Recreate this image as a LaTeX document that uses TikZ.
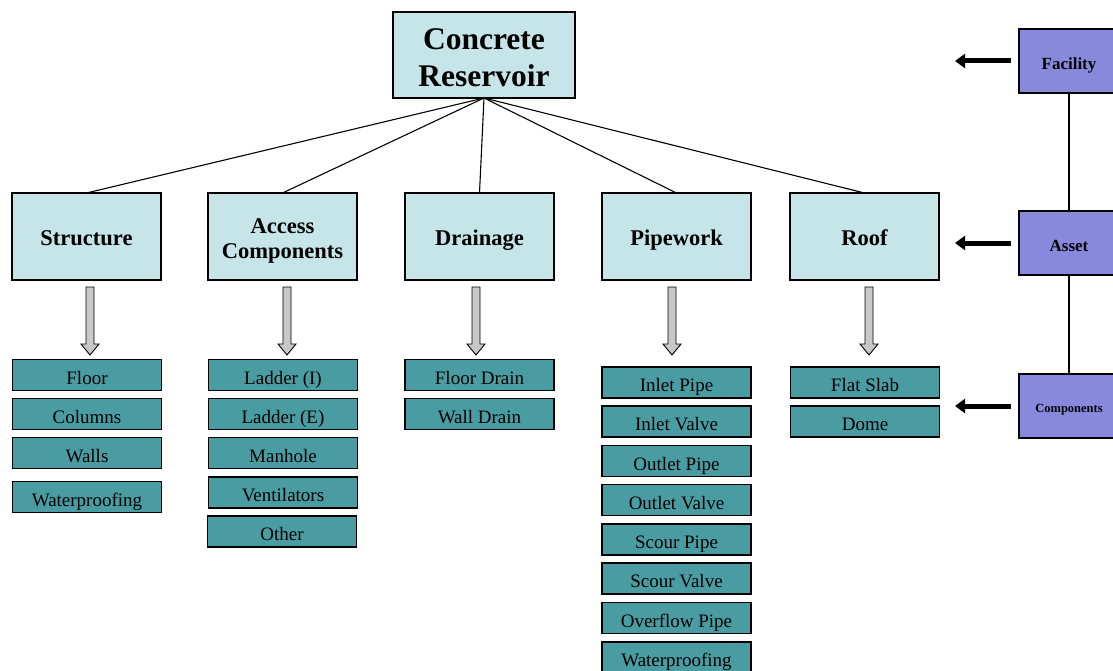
\documentclass[tikz,border=0pt]{standalone}
\usepackage{fontspec}
\setmainfont{Liberation Serif}
\usetikzlibrary{arrows.meta}
\definecolor{lightbox}{RGB}{198,229,232}
\definecolor{tealbox}{RGB}{74,156,163}
\definecolor{purplebox}{RGB}{136,136,221}
\definecolor{arrowgray}{RGB}{200,200,200}
\begin{document}
\begin{tikzpicture}[x=1pt,y=-1pt,
  base/.style={draw=black, line width=1.2pt, inner sep=0pt, outer sep=0pt, align=center},
  topbox/.style={base, fill=lightbox, minimum width=182pt, minimum height=86pt},
  toptext/.style={font=\fontsize{31.5}{37}\selectfont\bfseries, align=center, inner sep=0pt},
  catbox/.style={base, fill=lightbox, minimum width=149pt, minimum height=87pt,
    font=\fontsize{22.5}{25}\selectfont\bfseries},
  cattext/.style={text height=18pt, text depth=0pt},
  catlabel/.style={font=\fontsize{22.5}{25}\selectfont\bfseries, align=center, inner sep=0pt},
  itembox/.style={base, fill=tealbox, minimum width=149pt, minimum height=31pt,
    font=\fontsize{19}{20}\selectfont, text height=18pt, text depth=0pt},
  levelbox/.style={base, fill=purplebox, minimum width=100pt, minimum height=64pt,
    font=\fontsize{17}{20}\selectfont\bfseries, text height=17pt, text depth=0pt},
  link/.style={draw=black, line width=1.1pt},
  blackarrow/.style={draw=black, line width=5pt, -{Triangle[length=10pt,width=14pt]}},
  garrow/.pic={\draw[fill=arrowgray, line width=0.9pt]
    (-4,0) -- (4,0) -- (4,57) -- (9,57) -- (0,68) -- (-9,57) -- (-4,57) -- cycle;}
]
\useasboundingbox (0,0) rectangle (1113,671);
\clip (0,0) rectangle (1113,671);

% top
\node[topbox, label={[toptext, yshift=-2.5pt]center:Concrete\\Reservoir}] (top) at (484,55) {};

% categories
\node[catbox, cattext] (str) at (86.5,236.5) {Structure};
\node[catbox, label={[catlabel, yshift=-4pt]center:Access\\Components}] (acc) at (282.5,236.5) {};
\node[catbox, cattext] (drn) at (479.5,236.5) {Drainage};
\node[catbox, cattext] (pip) at (676.5,236.5) {Pipework};
\node[catbox, cattext] (rof) at (864.5,236.5) {Roof};

\foreach \c in {str,acc,drn,pip,rof} {\draw[link] (top.south) -- (\c.north);}

% gray arrows
\pic at (90,287) {garrow};
\pic at (287,287) {garrow};
\pic at (476,287) {garrow};
\pic at (672,287) {garrow};
\pic at (869,287) {garrow};

% structure items
\node[itembox] (s1) at (87,375) {Floor};
\node[itembox] (s2) at (87,414) {Columns};
\node[itembox] (s3) at (87,453) {Walls};
\node[itembox] (s4) at (87,497) {Waterproofing};

% access items
\node[itembox] (a1) at (283,375) {Ladder (I)};
\node[itembox] (a2) at (283,414) {Ladder (E)};
\node[itembox] (a3) at (283,453) {Manhole};
\node[itembox] (a4) at (283,492.5) {Ventilators};
\node[itembox] (a5) at (282,531.5) {Other};

% drainage items
\node[itembox] (d1) at (479.5,375) {Floor Drain};
\node[itembox] (d2) at (479.5,414) {Wall Drain};

% pipework items
\node[itembox] (p1) at (676.5,382.5) {Inlet Pipe};
\node[itembox] (p2) at (676.5,421.5) {Inlet Valve};
\node[itembox] (p3) at (676.5,461) {Outlet Pipe};
\node[itembox] (p4) at (676.5,500) {Outlet Valve};
\node[itembox] (p5) at (676.5,539.5) {Scour Pipe};
\node[itembox] (p6) at (676.5,578.5) {Scour Valve};
\node[itembox] (p7) at (676.5,618) {Overflow Pipe};
\node[itembox] (p8) at (676.5,657.5) {Waterproofing};

% roof items
\node[itembox] (r1) at (865,382.5) {Flat Slab};
\node[itembox] (r2) at (865,421.5) {Dome};

% right side levels
\node[levelbox] (fac) at (1069,61) {Facility};
\node[levelbox] (ast) at (1069,243) {Asset};
\node[levelbox, font=\fontsize{12.5}{14}\selectfont\bfseries, text height=13pt] (cmp) at (1069,406) {Components};
\draw[link] (fac.south) -- (ast.north);
\draw[link] (ast.south) -- (cmp.north);

\draw[blackarrow] ([xshift=-8pt]fac.west) -- ([xshift=-64pt]fac.west);
\draw[blackarrow] ([xshift=-8pt]ast.west) -- ([xshift=-64pt]ast.west);
\draw[blackarrow] ([xshift=-8pt]cmp.west) -- ([xshift=-64pt]cmp.west);
\end{tikzpicture}
\end{document}
